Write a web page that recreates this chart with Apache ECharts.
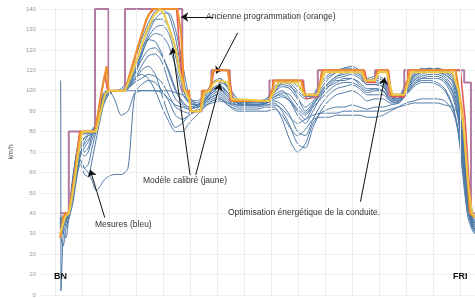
<!DOCTYPE html>
<html>
<head>
<meta charset="utf-8">
<script src="https://cdn.jsdelivr.net/npm/echarts@6/dist/echarts.min.js"></script>
<style>
  html, body { margin: 0; padding: 0; background: #fff; }
  #chart { width: 475px; height: 298px; }
</style>
</head>
<body>
<div id="chart"></div>
<script>
// position le long du parcours (1 unité = 1 intervalle de grille)
var posKm = [
  0.18, 0.29, 0.39, 0.5, 0.65, 0.79, 0.93, 1.08,
  1.22, 1.36, 1.51, 1.65, 1.79, 1.97, 2.19, 2.44,
  2.69, 2.94, 3.19, 3.44, 3.7, 3.95, 4.2, 4.45,
  4.7, 4.95, 5.24, 5.53, 5.81, 6.1, 6.39, 6.75,
  7.1, 7.46, 7.82, 8.11, 8.4, 8.68, 8.97, 9.26,
  9.54, 9.83, 10.12, 10.41, 10.69, 10.98, 11.27, 11.55,
  11.84, 12.13, 12.41, 12.7, 12.99, 13.28, 13.56, 13.85,
  14.14, 14.42, 14.71, 14.93, 15.14, 15.28, 15.43, 15.54
];

// mesures (bleu), km/h
var mesure1 = [35,38,37,42,58,70,79,80, 80,80,83,91,98,100,100,101, 105,115,125,133,139,140,137,126, 108,96,94,97,103,106,101,95, 95,95,96,102,105,104,100,97, 98,104,108,110,111,112,110,106, 107,106,99,97,104,109,110,111, 110,110,108,100,78,55,41,38];
var mesure2 = [30,36,39,40,52,66,76,79, 79,80,84,93,99,100,100,100, 103,110,119,128,135,138,138,130, 114,98,93,95,100,104,102,96, 94,95,95,99,104,105,102,98, 97,101,106,109,110,110,108,104, 105,104,98,96,102,108,111,110, 111,109,106,96,72,50,38,35];
var mesure3 = [38,33,36,40,55,67,74,77, 78,79,82,90,96,99,100,100, 102,108,117,126,131,132,128,117, 102,94,93,96,101,103,99,94, 94,94,95,99,102,101,96,92, 95,100,104,107,108,109,107,103, 103,102,97,96,101,107,109,109, 109,108,104,92,68,47,36,33];
var mesure4 = [33,36,34,38,50,62,70,68, 70,76,81,89,95,99,100,100, 104,113,121,125,124,118,109,100, 95,92,92,94,98,100,97,93, 93,93,94,97,98,95,88,84, 90,97,102,104,106,106,103,100, 101,100,96,95,100,105,107,108, 108,106,100,88,62,44,34,31];
var mesure5 = [36,30,35,40,48,60,66,62, 64,72,80,87,94,98,100,100, 101,106,112,117,118,114,104,96, 93,91,92,94,97,98,95,93, 93,93,94,95,93,88,80,78, 86,93,98,101,102,103,101,98, 98,98,95,95,99,104,106,106, 106,104,97,85,58,42,33,30];
var mesure6 = [28,34,37,40,47,58,64,59, 58,66,76,85,93,98,100,100, 101,105,110,112,108,98,88,82, 84,88,90,93,96,97,94,92, 92,92,93,94,90,83,74,72, 82,90,95,98,99,100,98,95, 96,96,94,94,98,103,105,105, 104,101,93,80,55,40,34,32];
var mesure7 = [34,37,38,39,52,64,73,77, 79,80,84,92,98,100,100,100, 100,100,100,100,100,100,100,99, 98,95,93,93,94,95,94,93, 93,93,93,93,91,87,84,86, 88,89,89,89,90,90,90,90, 90,90,91,92,93,94,94,94, 94,93,92,88,70,48,37,34];
var mesure8 = [32,35,37,40,50,60,66,62, 60,56,51,53,56,58,59,59, 62,98,100,100,100,99,96,93, 92,91,92,94,97,99,96,94, 94,94,94,96,97,95,90,86, 92,96,100,103,104,104,102,99, 100,100,96,95,100,105,108,109, 109,107,102,90,64,45,35,32];
var mesure9 = [36,31,28,38,54,66,74,70, 72,78,82,90,97,100,96,88, 90,99,103,105,104,100,95,88, 86,88,91,95,100,102,98,94, 93,93,94,100,104,103,97,90, 94,99,104,107,109,110,108,104, 104,103,97,96,102,107,110,111, 110,108,105,94,66,46,36,34];
var mesure10 = [30,24,32,37,45,57,68,72, 75,78,83,91,97,100,100,100, 102,106,108,106,100,92,85,80, 80,84,88,92,95,96,93,91, 91,91,92,92,86,76,70,74, 84,89,91,92,92,93,92,91, 92,92,93,94,98,102,104,104, 103,100,92,78,52,38,32,30];
var mesure11 = [37,39,36,40,56,69,77,79, 80,80,81,89,96,100,100,100, 104,112,122,130,135,135,131,121, 105,96,95,98,104,106,102,96, 95,95,96,101,103,102,99,96, 97,103,107,109,111,111,109,105, 106,105,98,96,103,108,110,110, 111,110,108,98,76,53,40,36];
var mesure12 = [33,37,39,40,53,63,70,74, 76,79,82,89,96,99,100,100, 102,108,115,120,121,117,110,101, 94,92,93,96,99,101,97,94, 93,93,95,98,100,96,91,88, 93,98,102,105,105,106,104,101, 101,100,95,94,99,103,106,107, 107,105,99,86,60,43,34,32];
var mesure13 = [35,38,38,40,49,61,69,75, 78,80,83,90,96,99,100,100, 101,104,106,108,107,104,98,92, 90,89,90,92,95,96,93,90, 90,90,90,91,88,82,78,81, 86,87,87,88,88,88,88,87, 87,88,90,92,94,95,96,96, 96,95,90,80,60,44,35,32];
var mesure14 = [34,36,40,41,57,70,78,80, 80,81,84,92,98,100,100,100, 103,109,118,125,128,127,122,112, 99,94,93,95,99,102,99,95, 94,95,95,97,99,98,93,89, 93,99,103,106,107,108,106,103, 103,102,97,95,101,106,109,110, 110,109,107,97,70,49,38,35];
var mesures = [mesure1, mesure2, mesure3, mesure4, mesure5, mesure6, mesure7,
  mesure8, mesure9, mesure10, mesure11, mesure12, mesure13, mesure14];

// pic parasite au départ de BN
var picKm = [0.2, 0.21, 0.3];
var picVit = [105, 2, 34];

// vitesse limite (violet)
var limiteKm = [0.18, 0.5, 1.47, 1.97, 2.58, 4.7, 4.99, 5.42, 5.78, 6.46, 7.93, 9.19, 9.72, 11.41, 11.84, 12.31, 12.92, 15.14, 15.39, 15.54];
var limiteVit = [40, 80, 140, 100, 140, 100, 90, 100, 110, 95, 105, 98, 110, 105, 110, 98, 110, 104, 40, 40];

// ancienne programmation (orange)
var ancienneKm = [0.18, 0.29, 0.39, 0.5, 0.65, 0.79, 0.93, 1.47, 1.58, 1.72, 1.9, 1.97, 2.58, 2.8, 3.09, 3.37, 3.59, 4.52, 4.66, 4.77, 4.95, 5.02, 5.38, 5.45, 5.71, 5.85, 6.39, 6.53, 7.93, 8.11, 9.11, 9.22, 9.72, 9.9, 11.41, 11.48, 11.84, 11.95, 12.31, 12.41, 12.92, 13.13, 14.82, 15.07, 15.25, 15.35, 15.54];
var ancienneVit = [28, 38, 40, 40, 52, 66, 80, 80, 88, 100, 112, 100, 100, 110, 123, 135, 140, 140, 128, 100, 100, 90, 90, 100, 100, 110, 110, 95, 95, 105, 105, 98, 98, 110, 110, 105, 105, 110, 110, 98, 98, 110, 110, 90, 60, 40, 38];

// autre programmation (rouge)
var rougeKm = [0.18, 0.36, 0.5, 0.72, 0.9, 1.47, 1.65, 1.83, 1.94, 2.58, 2.87, 3.16, 3.44, 3.66, 4.49, 4.66, 4.77, 4.95, 5.02, 5.38, 5.49, 5.74, 5.88, 6.42, 6.57, 7.93, 8.07, 9.15, 9.29, 9.72, 9.87, 11.45, 11.55, 11.84, 11.91, 12.34, 12.45, 12.92, 13.06, 15.0, 15.18, 15.32, 15.43, 15.54];
var rougeVit = [30, 40, 40, 60, 80, 80, 95, 108, 100, 100, 113, 126, 137, 140, 140, 110, 100, 98, 90, 90, 100, 100, 110, 110, 95, 95, 105, 105, 96, 97, 110, 110, 104, 104, 110, 110, 97, 97, 110, 110, 85, 55, 40, 38];

// modèle calibré (jaune)
var modeleKm = [0.18, 0.36, 0.5, 0.65, 0.86, 1.0, 1.51, 1.65, 1.83, 1.97, 2.58, 2.8, 3.09, 3.37, 3.66, 3.88, 4.05, 4.23, 4.45, 4.59, 4.77, 4.95, 5.02, 5.38, 5.53, 5.71, 5.88, 6.03, 6.39, 6.53, 7.93, 8.25, 8.97, 9.22, 9.72, 9.97, 11.34, 11.48, 11.84, 11.98, 12.27, 12.49, 12.92, 13.2, 14.71, 14.93, 15.14, 15.28, 15.43, 15.54];
var modeleVit = [30, 38, 40, 50, 70, 80, 80, 88, 98, 100, 100, 107, 118, 129, 137, 140, 137, 130, 121, 110, 101, 96, 90, 90, 99, 100, 104, 105, 104, 96, 95, 104, 104, 98, 98, 109, 109, 105, 105, 109, 109, 98, 98, 109, 109, 100, 80, 55, 40, 38];

var vitTicks = [0, 140, 10];
var gridKm = [0, 1, 2, 3, 4, 5, 6, 7, 8, 9, 10, 11, 12, 13, 14, 15];

// flèches d'annotation [km départ, vit départ, km arrivée, vit arrivée]
var fleches = [
  [5.85, 136.1, 4.66, 136.1],
  [6.75, 128.3, 5.96, 108.4],
  [4.99, 58.8, 4.34, 121],
  [5.2, 58.8, 6.1, 103.5],
  [1.83, 37.9, 1.29, 61.3],
  [11.3, 45.7, 12.2, 106.5]
];

function paires(xs, ys) {
  return xs.map(function (x, i) { return [x, ys[i]]; });
}

var chart = echarts.init(document.getElementById('chart'));

var series = [];
// lignes verticales de la grille
series.push({
  type: 'line',
  data: [],
  z: 1,
  silent: true,
  markLine: {
    silent: true,
    symbol: 'none',
    animation: false,
    label: { show: false },
    lineStyle: { color: '#ececec', width: 1, type: 'solid' },
    data: gridKm.map(function (k) { return { xAxis: k }; })
  }
});
mesures.forEach(function (m) {
  series.push({
    type: 'line',
    data: paires(posKm, m),
    showSymbol: false,
    smooth: 0.25,
    z: 2,
    lineStyle: { width: 1, color: '#4e79a7' }
  });
});
series.push({
  type: 'line',
  data: paires(picKm, picVit),
  showSymbol: false,
  z: 2,
  lineStyle: { width: 1, color: '#4e79a7' }
});
series.push({
  type: 'line',
  data: paires(limiteKm, limiteVit),
  step: 'end',
  showSymbol: false,
  z: 3,
  lineStyle: { width: 2, color: '#b07aa1' }
});
series.push({
  type: 'line',
  data: paires(rougeKm, rougeVit),
  showSymbol: false,
  z: 4,
  lineStyle: { width: 1.5, color: '#e15759' }
});
series.push({
  type: 'line',
  data: paires(ancienneKm, ancienneVit),
  showSymbol: false,
  z: 5,
  lineStyle: { width: 2, color: '#f28e2b' }
});
series.push({
  type: 'line',
  data: paires(modeleKm, modeleVit),
  showSymbol: false,
  z: 6,
  lineStyle: { width: 2, color: '#edc948' }
});
// flèches
series.push({
  type: 'line',
  data: [],
  z: 10,
  silent: true,
  markLine: {
    silent: true,
    animation: false,
    symbol: ['none', 'arrow'],
    symbolSize: 7,
    label: { show: false },
    lineStyle: { color: '#111', width: 1, type: 'solid' },
    data: fleches.map(function (f) {
      return [{ coord: [f[0], f[1]] }, { coord: [f[2], f[3]] }];
    })
  }
});

var txt = '8.5px "Liberation Sans", Arial, sans-serif';
var txtGras = 'bold 9px "Liberation Sans", Arial, sans-serif';

var option = {
  animation: false,
  backgroundColor: '#fff',
  grid: { left: 26, right: 0, top: 9, bottom: 1 },
  xAxis: {
    type: 'value',
    min: -0.57,
    max: 15.54,
    axisLine: { show: false },
    axisTick: { show: false },
    axisLabel: { show: false },
    splitLine: { show: false }
  },
  yAxis: {
    type: 'value',
    min: vitTicks[0],
    max: vitTicks[1],
    interval: vitTicks[2],
    name: 'km/h',
    nameLocation: 'middle',
    nameGap: 17,
    nameTextStyle: { fontSize: 7, color: '#555', fontFamily: 'Liberation Sans' },
    axisLine: { show: true, lineStyle: { color: '#e8e8e8' } },
    axisTick: { show: false },
    axisLabel: { fontSize: 6, color: '#999', margin: 4, fontFamily: 'Liberation Sans' },
    splitLine: { lineStyle: { color: '#efefef', width: 1 } }
  },
  graphic: [
    { type: 'text', z: 20, style: { x: 206, y: 17, text: 'Ancienne programmation (orange)', font: txt, fill: '#333', textVerticalAlign: 'middle' } },
    { type: 'text', z: 20, style: { x: 143, y: 181, text: 'Modèle calibré (jaune)', font: txt, fill: '#333', textVerticalAlign: 'middle' } },
    { type: 'text', z: 20, style: { x: 95, y: 225, text: 'Mesures (bleu)', font: txt, fill: '#333', textVerticalAlign: 'middle' } },
    { type: 'text', z: 20, style: { x: 228, y: 213, text: 'Optimisation énergétique de la conduite.', font: txt, fill: '#333', textVerticalAlign: 'middle' } },
    { type: 'text', z: 20, style: { x: 54, y: 277, text: 'BN', font: txtGras, fill: '#111', textVerticalAlign: 'middle' } },
    { type: 'text', z: 20, style: { x: 453, y: 277, text: 'FRI', font: txtGras, fill: '#111', textVerticalAlign: 'middle' } }
  ],
  series: series
};

chart.setOption(option);
</script>
</body>
</html>
